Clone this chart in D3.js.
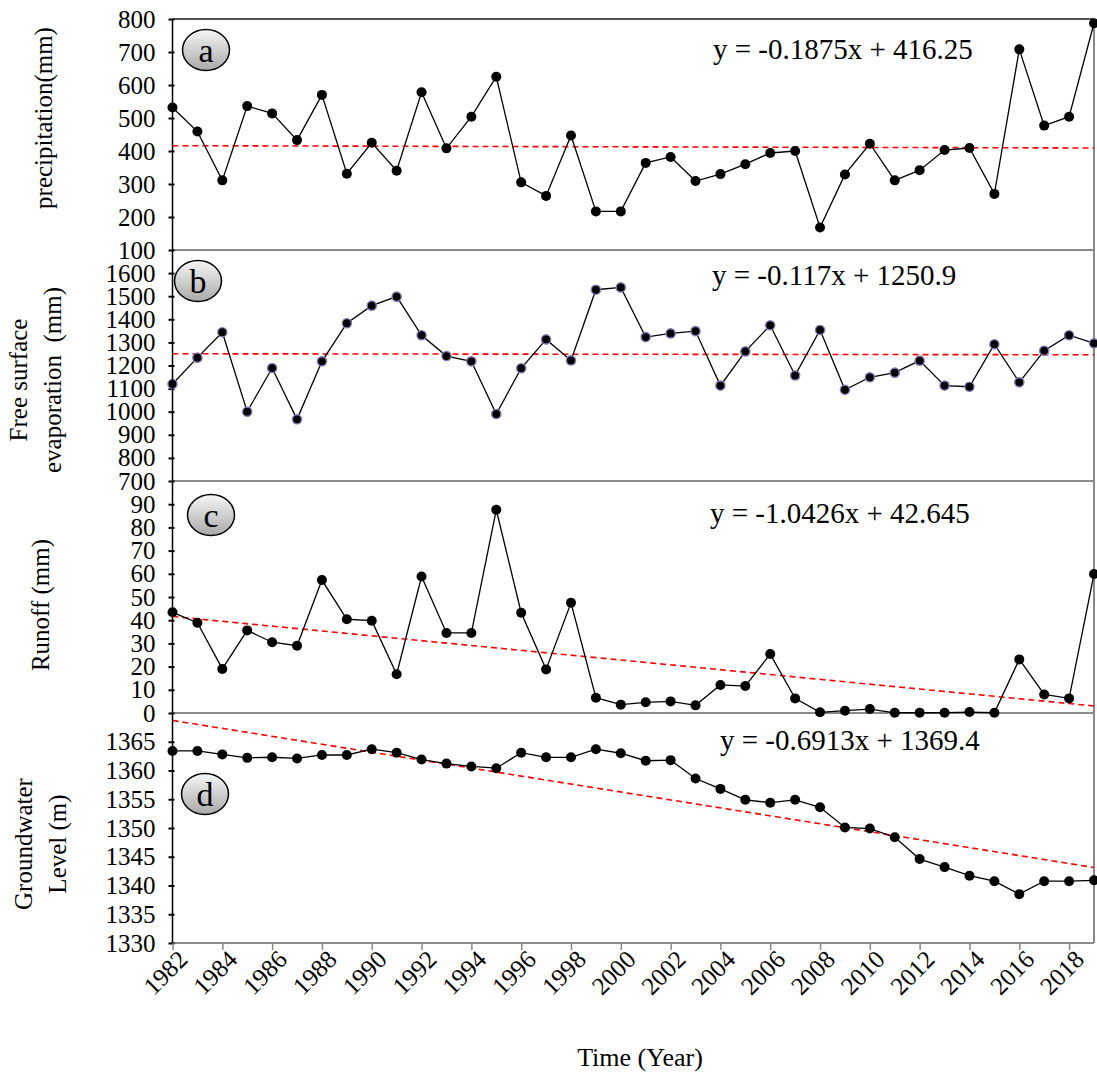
<!DOCTYPE html>
<html>
<head>
<meta charset="utf-8">
<script src="https://cdn.jsdelivr.net/npm/d3@7"></script>
<style>
  body { margin: 0; background: #fff; }
  svg { display: block; font-family: "Liberation Serif", "Times New Roman", serif; }
  .title { white-space: pre; }
</style>
</head>
<body>
<svg id="chart" width="1097" height="1074"></svg>
<script>
// data
var years = [1982,1983,1984,1985,1986,1987,1988,1989,1990,1991,1992,1993,1994,1995,1996,1997,1998,1999,2000,
  2001,2002,2003,2004,2005,2006,2007,2008,2009,2010,2011,2012,2013,2014,2015,2016,2017,2018,2019]

var precipitation = [532,459,311,536,514,433,570,331,425,340,578,408,504,625,305,264,447,217,217,
  364,382,309,330,360,394,400,168,329,422,311,342,403,409,270,708,477,504,787]

var evaporation = [1120,1234,1344,1000,1189,967,1218,1383,1459,1498,1331,1241,1218,990,1188,1313,1222,1528,1538,
  1323,1339,1349,1113,1261,1374,1157,1354,1095,1149,1169,1221,1113,1108,1292,1127,1264,1331,1296]

var runoff = [43.4,38.9,19.0,35.6,30.5,29.0,57.3,40.4,39.8,16.7,58.8,34.5,34.5,87.6,43.2,18.8,47.5,6.6,3.6,
  4.6,5.0,3.3,12.1,11.6,25.4,6.3,0.3,1.0,1.7,0.1,0.1,0.1,0.4,0.1,23.1,8.0,6.3,59.9]

var groundwater = [1363.4,1363.4,1362.8,1362.2,1362.3,1362.1,1362.7,1362.7,1363.7,1363.1,1361.9,1361.2,1360.7,1360.4,1363.1,1362.3,1362.3,1363.7,1363.0,
  1361.7,1361.8,1358.6,1356.8,1354.9,1354.4,1354.9,1353.6,1350.1,1349.9,1348.4,1344.6,1343.2,1341.7,1340.75,1338.5,1340.75,1340.75,1340.9]

// linear trend y = slope * i + intercept, i = 1..n
var slopes = [-0.1875, -0.117, -1.0426, -0.6913]
var intercepts = [416.25, 1250.9, 42.645, 1369.4]
var equations = ["y = -0.1875x + 416.25", "y = -0.117x + 1250.9", "y = -1.0426x + 42.645", "y = -0.6913x + 1369.4"]
var letters = ["a", "b", "c", "d"]

var ticksA = [100,200,300,400,500,600,700,800]
var ticksB = [700,800,900,1000,1100,1200,1300,1400,1500,1600]
var ticksC = [0,10,20,30,40,50,60,70,80,90]
var ticksD = [1330,1335,1340,1345,1350,1355,1360,1365]
var xTicks = [1982,1984,1986,1988,1990,1992,1994,1996,1998,2000,2002,2004,2006,2008,2010,2012,2014,2016,2018]

var svg = d3.select("#chart")
var left = 172.5, right = 1094

var x = d3.scaleLinear().domain([1982, 2019]).range([left, right])

var panels = [
  {values: precipitation, domain: [100, 800], top: 19, bottom: 250, ticks: ticksA, halo: false,
   title: ["precipitation(mm)"], tx: [52], ty: 118, lx: 206, ly: 50, ex: 713, ey: 59},
  {values: evaporation, domain: [700, 1700], top: 250, bottom: 481, ticks: ticksB, halo: true,
   title: ["Free surface", "evaporation  (mm)"], tx: [27, 61], ty: 380, lx: 198, ly: 281, ex: 712, ey: 285},
  {values: runoff, domain: [0, 100], top: 481, bottom: 713, ticks: ticksC, halo: false,
   title: ["Runoff (mm)"], tx: [49], ty: 605, lx: 211, ly: 515, ex: 710, ey: 523},
  {values: groundwater, domain: [1330, 1370], top: 713, bottom: 943, ticks: ticksD, halo: false,
   title: ["Groundwater", "Level (m)"], tx: [32, 66], ty: 844, lx: 205, ly: 794, ex: 720, ey: 750}
]

// gradient for the panel letters
var grad = svg.append("defs").append("linearGradient")
  .attr("id", "bubble").attr("x1", 0).attr("y1", 0).attr("x2", 0).attr("y2", 1)
grad.append("stop").attr("offset", "0%").attr("stop-color", "#f6f6f6")
grad.append("stop").attr("offset", "100%").attr("stop-color", "#a9a9a9")

// frame lines
svg.append("line").attr("x1", left).attr("x2", right).attr("y1", 19).attr("y2", 19)
  .attr("stroke", "#555").attr("stroke-width", 2)
svg.append("line").attr("x1", right).attr("x2", right).attr("y1", 19).attr("y2", 943)
  .attr("stroke", "#888").attr("stroke-width", 2)

panels.forEach(function(p, k) {
  var y = d3.scaleLinear().domain(p.domain).range([p.bottom, p.top])
  var g = svg.append("g")

  // bottom line of the panel
  g.append("line").attr("x1", left).attr("x2", right).attr("y1", p.bottom).attr("y2", p.bottom)
    .attr("stroke", "#8a8a8a").attr("stroke-width", 2)

  // y axis
  var ax = g.append("g").attr("transform", "translate(" + left + ",0)")
    .call(d3.axisLeft(y).tickValues(p.ticks).tickSize(5).tickSizeOuter(0).tickFormat(d3.format("d")))
  ax.select(".domain").remove()
  ax.selectAll(".tick line").attr("stroke", "#000").attr("stroke-width", 2).attr("x2", -4).attr("x1", 2)
  ax.selectAll(".tick text").attr("x", -17).attr("font-size", 25).attr("fill", "#000")
    .attr("font-family", "Liberation Serif")

  // trend line
  g.append("line")
    .attr("x1", x(years[0])).attr("y1", y(slopes[k] * 1 + intercepts[k]))
    .attr("x2", x(years[years.length - 1])).attr("y2", y(slopes[k] * years.length + intercepts[k]))
    .attr("stroke", "#ff0000").attr("stroke-width", 1.6).attr("stroke-dasharray", "6,4")

  // series
  var line = d3.line().x(function(d, i) { return x(years[i]) }).y(function(d) { return y(d) })
  g.append("path").datum(p.values).attr("d", line)
    .attr("fill", "none").attr("stroke", "#000").attr("stroke-width", 1.3)
  g.selectAll("circle.pt").data(p.values).enter().append("circle")
    .attr("cx", function(d, i) { return x(years[i]) })
    .attr("cy", function(d) { return y(d) })
    .attr("r", p.halo ? 4.6 : 5)
    .attr("fill", "#000")
    .attr("stroke", p.halo ? "#8a78b8" : "none")
    .attr("stroke-width", p.halo ? 1.4 : 0)

  // equation
  g.append("text").attr("x", p.ex).attr("y", p.ey).attr("font-size", 29).text(equations[k])

  // panel letter
  g.append("ellipse").attr("cx", p.lx).attr("cy", p.ly).attr("rx", 23.5).attr("ry", 20.5)
    .attr("fill", "url(#bubble)").attr("stroke", "#000").attr("stroke-width", 1.5)
  g.append("text").attr("x", p.lx).attr("y", p.ly + 12).attr("text-anchor", "middle")
    .attr("font-size", 34).text(letters[k])

  // axis title
  p.title.forEach(function(t, j) {
    g.append("text").attr("class", "title")
      .attr("transform", "translate(" + p.tx[j] + "," + p.ty + ") rotate(-90)")
      .attr("text-anchor", "middle").attr("font-size", 25).text(t)
  })
})

// left axis line
svg.append("line").attr("x1", left).attr("x2", left).attr("y1", 19).attr("y2", 943)
  .attr("stroke", "#000").attr("stroke-width", 1.5)

// x axis
var xa = svg.append("g").attr("transform", "translate(0,943)")
  .call(d3.axisBottom(x).tickValues(xTicks).tickSize(7).tickFormat(d3.format("d")))
xa.select(".domain").remove()
xa.selectAll(".tick line").attr("stroke", "#888").attr("stroke-width", 1.5)
xa.selectAll(".tick text")
  .attr("font-size", 25).attr("font-family", "Liberation Serif").attr("fill", "#000")
  .attr("text-anchor", "end").attr("dy", null).attr("y", null)
  .attr("transform", "translate(16,18) rotate(-45)")

svg.append("text").attr("x", 640).attr("y", 1066).attr("text-anchor", "middle")
  .attr("font-size", 26).text("Time (Year)")
</script>
</body>
</html>
